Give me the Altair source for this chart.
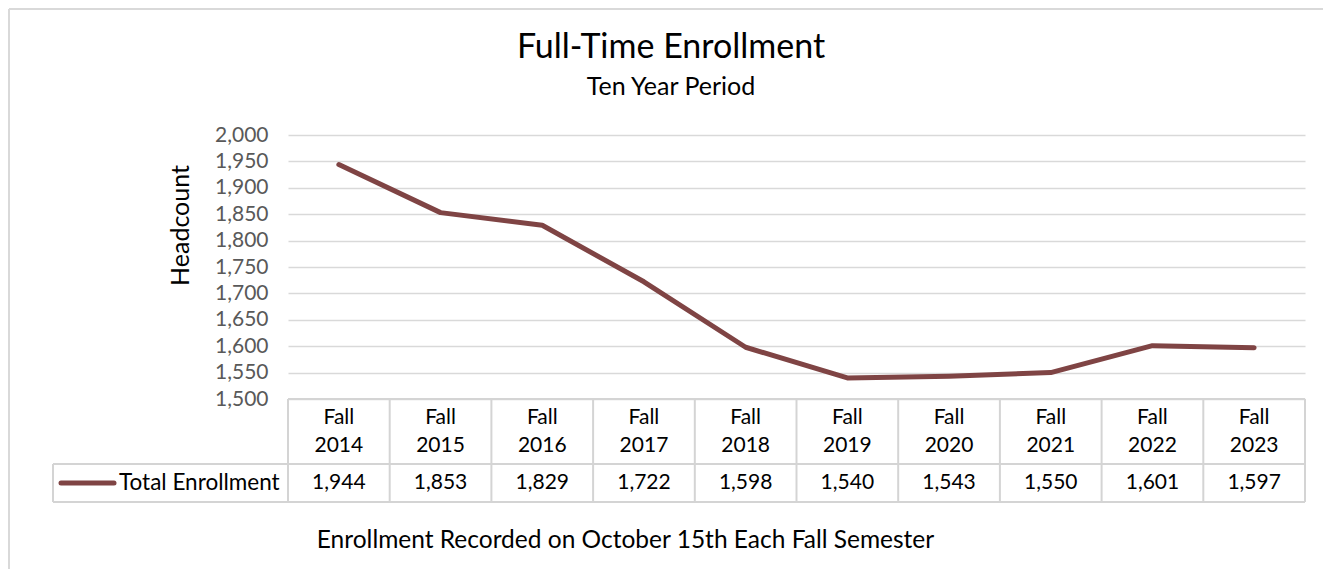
import altair as alt
import pandas as pd

categories = ["Fall 2014", "Fall 2015", "Fall 2016", "Fall 2017", "Fall 2018",
              "Fall 2019", "Fall 2020", "Fall 2021", "Fall 2022", "Fall 2023"]
enrollment = [1944, 1853, 1829, 1722, 1598, 1540, 1543, 1550, 1601, 1597]
series_name = "Total Enrollment"
y_ticks = list(range(1500, 2001, 50))

title_text = "Full-Time Enrollment"
subtitle_text = "Ten Year Period"
y_title = "Headcount"
footer_text = "Enrollment Recorded on October 15th Each Fall Semester"

LINE = "#7f4444"
GRID = "#d9d9d9"
TABLE = "#d4d4d4"
FONT = "Lato"

W, H = 1017, 264
PAD = {"left": 280, "top": 127, "right": 18, "bottom": 170}

df = pd.DataFrame({"cat": categories, "value": enrollment})
one = pd.DataFrame({"a": [0]})

xscale = alt.Scale(type="band", paddingInner=0, paddingOuter=0, domain=categories)
yscale = alt.Scale(domain=[1500, 2000], nice=False, zero=False)

x_axis = alt.Axis(
    title=footer_text, orient="bottom", domain=False, ticks=False, tickSize=0, grid=False,
    bandPosition=0.5, labelAlign="center",
    labelAngle=0, labelExpr="split(datum.label, ' ')", labelFontSize=21, labelColor="black",
    labelBaseline="top", labelPadding=7, labelLineHeight=28,
    titleFontSize=24.5, titleFontWeight="normal", titleColor="black",
    titleX=337, titleY=141, titleBaseline="middle", titleAlign="center", titleAnchor="start",
)
y_axis = alt.Axis(
    title=y_title, values=y_ticks, format=",.0f", domain=False, ticks=False, tickSize=0,
    grid=True, gridColor=GRID, gridWidth=1.5,
    labelFontSize=21, labelColor="#595959", labelPadding=20,
    titleFontSize=25, titleFontWeight="normal", titleColor="black",
    titleX=-108, titleY=90, titleBaseline="middle", titleAlign="center", titleAngle=270,
)

line = alt.Chart(df).mark_line(color=LINE, strokeWidth=5, strokeCap="round", strokeJoin="round").encode(
    x=alt.X("cat:N", scale=xscale, axis=x_axis, sort=categories, bandPosition=0.5),
    y=alt.Y("value:Q", scale=yscale, axis=y_axis),
)

# table column borders
col_left = alt.Chart(df).mark_rule(color=TABLE, strokeWidth=2).encode(
    x=alt.X("cat:N", sort=categories, bandPosition=0),
    y=alt.value(H), y2=alt.value(367),
)
col_right = alt.Chart(df.tail(1)).mark_rule(color=TABLE, strokeWidth=2).encode(
    x=alt.X("cat:N", sort=categories, bandPosition=1),
    y=alt.value(H), y2=alt.value(367),
)
row_mid = alt.Chart(one).mark_rule(color=TABLE, strokeWidth=2).encode(
    x=alt.value(-235), x2=alt.value(W), y=alt.value(329),
)
row_bottom = alt.Chart(one).mark_rule(color=TABLE, strokeWidth=2).encode(
    x=alt.value(-235), x2=alt.value(W), y=alt.value(367),
)
legend_left = alt.Chart(one).mark_rule(color=TABLE, strokeWidth=2).encode(
    x=alt.value(-235), y=alt.value(329), y2=alt.value(367),
)
table_top = alt.Chart(one).mark_rule(color=TABLE, strokeWidth=2).encode(
    x=alt.value(0), x2=alt.value(W), y=alt.value(H),
)

values_text = alt.Chart(df).mark_text(fontSize=21, color="black", baseline="middle", align="center").encode(
    x=alt.X("cat:N", sort=categories, bandPosition=0.5),
    y=alt.value(348),
    text=alt.Text("value:Q", format=","),
)

legend_swatch = alt.Chart(one).mark_rule(color=LINE, strokeWidth=5, strokeCap="round").encode(
    x=alt.value(-227), x2=alt.value(-174), y=alt.value(348),
)
legend_text = alt.Chart(pd.DataFrame({"name": [series_name]})).mark_text(
    fontSize=22.5, color="black", baseline="middle", align="left").encode(
    x=alt.value(-169), y=alt.value(348), text="name:N",
)

title_mark = alt.Chart(pd.DataFrame({"t": [title_text]})).mark_text(
    fontSize=34, color="black", baseline="middle", align="center").encode(
    x=alt.value(383), y=alt.value(-87), text="t:N",
)
subtitle_mark = alt.Chart(pd.DataFrame({"t": [subtitle_text]})).mark_text(
    fontSize=25, color="black", baseline="middle", align="center").encode(
    x=alt.value(383), y=alt.value(-48), text="t:N",
)

border_left = alt.Chart(one).mark_rule(color=GRID, strokeWidth=2).encode(
    x=alt.value(-279), y=alt.value(-126), y2=alt.value(H + PAD["bottom"]),
)
border_top = alt.Chart(one).mark_rule(color=GRID, strokeWidth=2).encode(
    x=alt.value(-279), x2=alt.value(W + PAD["right"]), y=alt.value(-126),
)

chart = alt.layer(
    line, border_left, border_top, table_top, col_left, col_right, row_mid, row_bottom, legend_left,
    values_text, legend_swatch, legend_text, title_mark, subtitle_mark,
).properties(
    width=W, height=H,
    autosize=alt.AutoSizeParams(type="none"),
    padding=PAD,
).configure(font=FONT).configure_view(stroke=None)

chart.save("out.html", embed_options={"renderer": "svg", "actions": False})
